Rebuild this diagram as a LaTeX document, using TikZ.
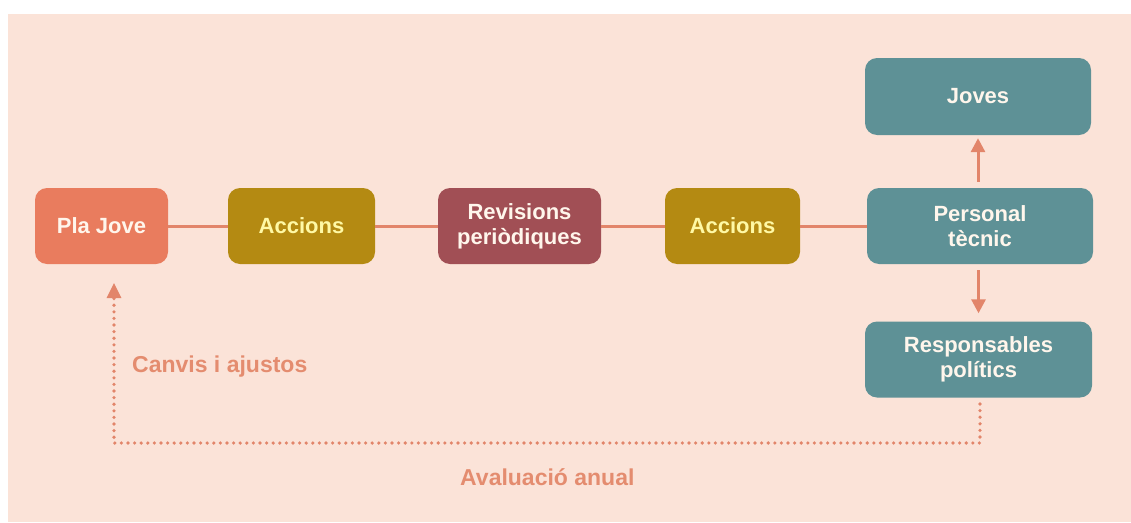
\documentclass[tikz,border=0pt]{standalone}
\usepackage{fontspec}
\setmainfont{Liberation Sans}
\usetikzlibrary{arrows.meta}
\definecolor{peach}{HTML}{FBE3D8}
\definecolor{coral}{HTML}{E97C5E}
\definecolor{gold}{HTML}{B48A12}
\definecolor{wine}{HTML}{A14F55}
\definecolor{teal}{HTML}{5E9196}
\definecolor{linkc}{HTML}{E2856A}
\definecolor{labelc}{HTML}{E48C6F}
\definecolor{boxtext}{HTML}{FFF6EC}
\begin{document}
\begin{tikzpicture}[x=1pt,y=-1pt,
  box/.style={rounded corners=12pt, minimum height=76pt, align=center, text=boxtext,
    font=\fontsize{22}{25}\selectfont\bfseries, inner sep=0pt},
  link/.style={linkc, line width=3pt},
  flow/.style={linkc, line width=3pt, -{Triangle[width=14pt,length=14pt]}},
  loop/.style={linkc, line width=3.6pt, line cap=round, dash pattern=on 0pt off 6.6pt},
  note/.style={labelc, font=\fontsize{23}{25}\selectfont\bfseries, anchor=west, inner sep=0pt}]
\useasboundingbox (0,0) rectangle (1131,522);
\fill[white] (0,0) rectangle (1131,522);
\fill[peach] (8,14) rectangle (1131,522);
\node[box, fill=coral, minimum width=133pt] (plajove) at (101.5,226){Pla Jove};
\node[box, fill=gold, minimum width=147pt, text=boxtext!70!yellow] (accions1) at (301.5,226){Accions};
\node[box, fill=wine, minimum width=163pt] (revisions) at (519.5,226){Revisions\\periòdiques};
\node[box, fill=gold, minimum width=135pt, text=boxtext!70!yellow] (accions2) at (732.5,226){Accions};
\node[box, fill=teal, minimum width=226pt] (personal) at (980,226){Personal\\tècnic};
\node[box, fill=teal, minimum width=226pt, minimum height=77pt] (joves) at (978,96.5){Joves};
\node[box, fill=teal, minimum width=227pt] (responsables) at (978.5,359.5){Responsables\\polítics};
\draw[link](plajove) -- (accions1);
\draw[link](accions1) -- (revisions);
\draw[link](revisions) -- (accions2);
\draw[link](accions2) -- (personal);
\draw[flow, shorten <=6pt, shorten >=3pt](personal.north -| joves) -- (joves.south);
\draw[flow, shorten <=6pt, shorten >=8pt](personal.south -| responsables) -- (responsables.north);
\coordinate (loopright) at (980,443);
\coordinate (loopleft) at (114,443);
\coordinate (looptip) at (114,283);
\draw[loop](980,404) -- (loopright) -- (loopleft) -- (114,298);
\draw[linkc, -{Triangle[width=14pt,length=15pt]}, line width=3pt](114,296) -- (looptip);
\node[note] (canvis) at (132,367){Canvis i ajustos};
\node[note] (avaluacio) at (460,477){Avaluació anual};
\end{tikzpicture}
\end{document}
